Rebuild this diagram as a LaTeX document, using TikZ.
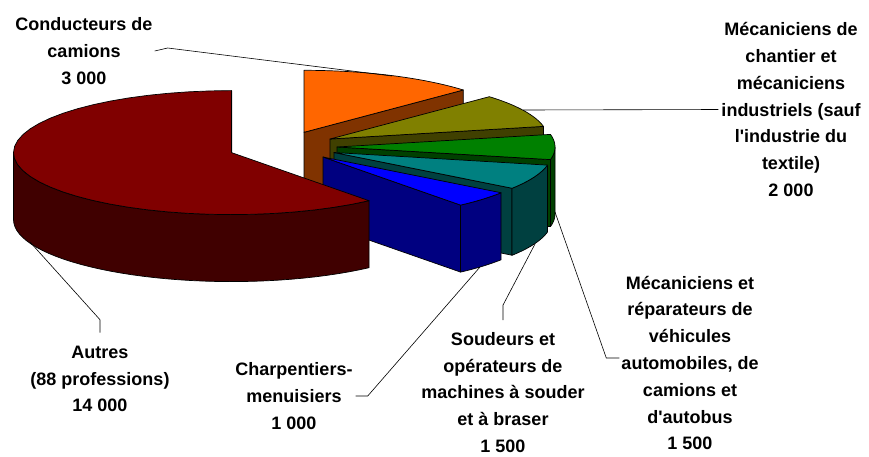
\documentclass[tikz,border=0pt]{standalone}
\usepackage{fontspec}
\newfontfamily\labelfont{Liberation Sans}
\usepackage{xcolor}
\usepackage{tikz}
\usetikzlibrary{positioning}
\definecolor{conducteurscolor}{RGB}{255,102,0}
\definecolor{conducteursside}{RGB}{128,51,0}
\definecolor{chantiercolor}{RGB}{128,128,0}
\definecolor{chantierside}{RGB}{64,64,0}
\definecolor{reparateurscolor}{RGB}{0,128,0}
\definecolor{reparateursside}{RGB}{0,64,0}
\definecolor{soudeurscolor}{RGB}{0,128,128}
\definecolor{soudeursside}{RGB}{0,64,64}
\definecolor{charpentierscolor}{RGB}{0,0,255}
\definecolor{charpentiersside}{RGB}{0,0,128}
\definecolor{autrescolor}{RGB}{128,0,0}
\definecolor{autresside}{RGB}{64,0,0}

\begin{document}
\begin{tikzpicture}[
    x=1pt, y=-1pt,
    face/.style={draw=black, line width=0.7pt, line join=round},
    leader/.style={draw=black, line width=0.6pt},
    pielabel/.style={font=\labelfont\bfseries\fontsize{18}{26.8}\selectfont, align=center, inner sep=0pt}
]
    \useasboundingbox (0,0) rectangle (869,456);

    % Slices, back to front: apex, angles, front side range, colours
    \foreach \cx/\cy/\a/\b/\c/\d/\topc/\sidec in {
        304/132.3/43.04/90/0/0/conducteurscolor/conducteursside,
        330/139/11.74/43.04/0/0/chantiercolor/chantierside,
        337/147/-11.74/11.74/-11.74/0/reparateurscolor/reparateursside,
        334/152.5/-35.22/-11.74/-35.22/-11.74/soudeurscolor/soudeursside,
        323/157/-50.87/-35.22/-50.87/-35.22/charpentierscolor/charpentiersside,
        231.5/152.6/90/309.13/180/309.13/autrescolor/autresside}{
        % cut face
        \filldraw[face, fill=\sidec] (\cx,\cy) -- ({\cx+218*cos(\a)},{\cy-62*sin(\a)})
            -- ({\cx+218*cos(\a)},{\cy-62*sin(\a)+67}) -- (\cx,{\cy+67}) -- cycle;
        % outer side
        \ifdim\c pt<\d pt
            \filldraw[face, fill=\sidec]
                plot[domain=\c:\d, samples=40, variable=\t] ({\cx+218*cos(\t)},{\cy-62*sin(\t)})
                -- plot[domain=\d:\c, samples=40, variable=\t] ({\cx+218*cos(\t)},{\cy-62*sin(\t)+67})
                -- cycle;
        \fi
        % top
        \filldraw[face, fill=\topc] (\cx,\cy)
            -- plot[domain=\a:\b, samples=40, variable=\t] ({\cx+218*cos(\t)},{\cy-62*sin(\t)}) -- cycle;
    }

    % Labels
    \node[pielabel] (conducteurs) at (84,51) {Conducteurs de\\camions\\3 000};
    \node[pielabel] (chantier) at (791,109.5) {Mécaniciens de\\chantier et\\mécaniciens\\industriels (sauf\\l'industrie du\\textile)\\2 000};
    \node[pielabel] (reparateurs) at (690,363) {Mécaniciens et\\réparateurs de\\véhicules\\automobiles, de\\camions et\\d'autobus\\1 500};
    \node[pielabel] (soudeurs) at (503,392.5) {Soudeurs et\\opérateurs de\\machines à souder\\et à braser\\1 500};
    \node[pielabel] (charpentiers) at (294,396) {Charpentiers-\\menuisiers\\1 000};
    \node[pielabel] (autres) at (100,379) {Autres\\(88 professions)\\14 000};

    % Leader lines
    \coordinate (conducteurs-pt) at (392,76);
    \coordinate (chantier-pt) at (523,110);
    \coordinate (reparateurs-pt) at (555,212);
    \coordinate (soudeurs-pt) at (535,244);
    \coordinate (charpentiers-pt) at (480,267);
    \coordinate (autres-pt) at (30,242);

    \draw[leader] ([xshift=2pt]conducteurs.east) -- ++(13,-3) -- (conducteurs-pt);
    \draw[leader] (chantier-pt) -- ([xshift=-3pt]chantier.west);
    \draw[leader] (reparateurs-pt) -- ([xshift=-15pt,yshift=5pt]reparateurs.west) -- ([xshift=-2pt,yshift=5pt]reparateurs.west);
    \draw[leader] ([yshift=12pt]soudeurs.north) -- ++(0,-15) -- (soudeurs-pt);
    \draw[leader] ([xshift=3pt]charpentiers.east) -- ++(12,0) -- (charpentiers-pt);
    \draw[leader] ([yshift=13pt]autres.north) -- ++(0,-13) -- (autres-pt);
\end{tikzpicture}
\end{document}
